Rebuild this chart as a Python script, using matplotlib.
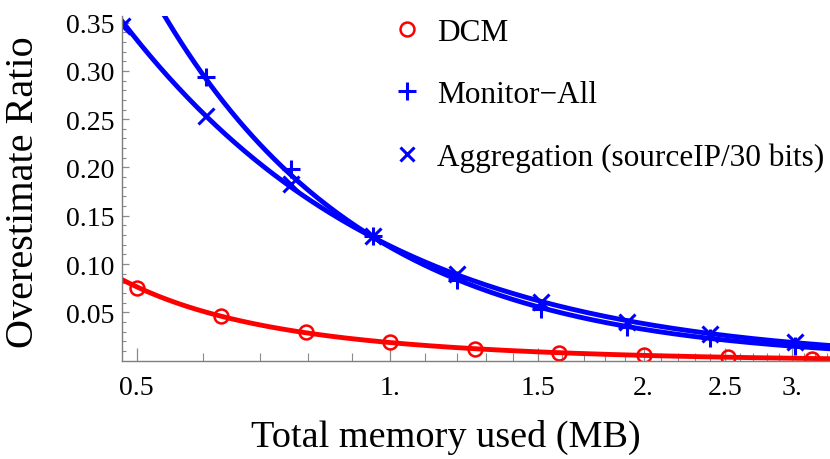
import numpy as np
import matplotlib
matplotlib.use("Agg")
import matplotlib.pyplot as plt
from matplotlib.lines import Line2D
from matplotlib.ticker import FixedLocator, FixedFormatter, NullFormatter

plt.rcParams['font.family'] = ['Liberation Serif', 'DejaVu Serif']

# memory (MB) at which each method was measured
dcm_mem = [0.5, 0.63, 0.794, 1.0, 1.26, 1.587, 2.0, 2.52, 3.17]
dcm_ratio = [0.0755, 0.0466, 0.0294, 0.019, 0.0121, 0.008, 0.0055, 0.0038, 0.0022]

blue_mem = [0.48, 0.605, 0.762, 0.955, 1.2, 1.51, 1.91, 2.4, 3.03]
monitor_ratio = [0.43, 0.2934, 0.1985, 0.129, 0.0835, 0.054, 0.035, 0.023, 0.015]
aggr_ratio = [0.3465, 0.2536, 0.1829, 0.1294, 0.0898, 0.061, 0.040, 0.028, 0.019]

x_major = [0.5, 1.0, 1.5, 2.0, 2.5, 3.0]
x_major_labels = ["0.5", "1.", "1.5", "2.", "2.5", "3."]
y_major = [0.05, 0.10, 0.15, 0.20, 0.25, 0.30, 0.35]
y_major_labels = ["0.05", "0.10", "0.15", "0.20", "0.25", "0.30", "0.35"]

xmin, xmax = 0.48, 3.33
ymax = 0.357

fig = plt.figure(figsize=(8.3, 4.6), dpi=100)
ax = fig.add_axes([121.7 / 830, (460 - 361.7) / 460, (830 - 121.7) / 830, (361.7 - 16.8) / 460])
ax.set_xscale('log')

# smooth fitted curves (polynomial in log-log space), like the original fit lines
xs = np.geomspace(xmin, xmax, 300)


def fit_curve(xv, yv, deg=2):
    c = np.polyfit(np.log(xv), np.log(yv), deg)
    return np.exp(np.polyval(c, np.log(xs)))


ax.plot(xs, fit_curve(dcm_mem, dcm_ratio, 3), color='red', lw=3.5)
ax.plot(xs, fit_curve(blue_mem, monitor_ratio), color='blue', lw=3.5)
ax.plot(xs, fit_curve(blue_mem, aggr_ratio), color='blue', lw=3.5)

ax.plot(dcm_mem, dcm_ratio, 'o', ms=10, mfc='none', mec='red', mew=1.8)
ax.plot(blue_mem, monitor_ratio, '+', ms=13, mec='blue', mew=2.2)
ax.plot(blue_mem, aggr_ratio, 'x', ms=11, mec='blue', mew=2.2)

ax.set_xlim(xmin, xmax)
ax.set_ylim(0, ymax)

ax.xaxis.set_major_locator(FixedLocator(x_major))
ax.xaxis.set_major_formatter(FixedFormatter(x_major_labels))
minor_x = [v for v in np.round(np.arange(0.5, 3.35, 0.1), 2) if v not in x_major]
ax.xaxis.set_minor_locator(FixedLocator(minor_x))
ax.xaxis.set_minor_formatter(NullFormatter())

ax.yaxis.set_major_locator(FixedLocator(y_major))
ax.yaxis.set_major_formatter(FixedFormatter(y_major_labels))
ax.yaxis.set_minor_locator(FixedLocator(np.round(np.arange(0.01, 0.36, 0.01), 2)))

for s in ['top', 'right']:
    ax.spines[s].set_visible(False)
for s in ['left', 'bottom']:
    ax.spines[s].set_color('#7f7f7f')
    ax.spines[s].set_linewidth(1.0)

ax.tick_params(which='both', direction='in', color='#8a8a8a', labelsize=20, labelcolor='black')
ax.tick_params(axis='x', which='major', length=9.4, width=0.9, pad=10)
ax.tick_params(axis='x', which='minor', length=5.8, width=0.8)
ax.tick_params(axis='y', which='major', length=5, width=0.9, pad=5)
ax.tick_params(axis='y', which='minor', length=3.2, width=0.8)

fig.text(446 / 830, 1 - 437 / 460, "Total memory used (MB)", ha='center', va='center', fontsize=27.5)
fig.text(24 / 830, 1 - 192 / 460, "Overestimate Ratio", ha='center', va='center',
         rotation=90, fontsize=29)

handles = [
    Line2D([], [], ls='none', marker='o', ms=10, mfc='none', mec='red', mew=1.8),
    Line2D([], [], ls='none', marker='+', ms=13, mec='blue', mew=2.2),
    Line2D([], [], ls='none', marker='x', ms=10, mec='blue', mew=2.2),
]
labels = ["DCM", "Monitor\u2212All", "Aggregation (sourceIP/30 bits)"]
ax.legend(handles, labels, loc='upper left', bbox_to_anchor=(394.5 / 830, 1 - 19 / 460),
          bbox_transform=fig.transFigure, frameon=False, fontsize=22.5, handlelength=0.8,
          handletextpad=0.56, labelspacing=1.06, borderpad=0, borderaxespad=0)

fig.savefig("out.png", dpi=100)
